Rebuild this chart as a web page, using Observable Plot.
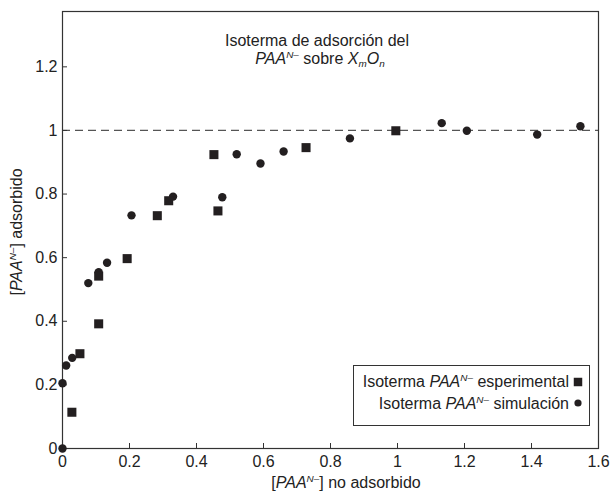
<!DOCTYPE html>
<html>
<head>
<meta charset="utf-8">
<script src="https://cdn.jsdelivr.net/npm/d3@7"></script>
<script src="https://cdn.jsdelivr.net/npm/@observablehq/plot@0.6"></script>
<style>
  html, body { margin: 0; padding: 0; background: #fff; }
  #chart { width: 611px; height: 494px; }
  svg { font-family: "Liberation Sans", Arial, sans-serif; }
</style>
</head>
<body>
<div id="chart"></div>
<script>
// Experimental isotherm (squares)
const xExp = [0.028, 0.052, 0.108, 0.108, 0.193, 0.283, 0.317, 0.452, 0.464, 0.727, 0.995];
const yExp = [0.114, 0.298, 0.392, 0.542, 0.597, 0.732, 0.779, 0.924, 0.747, 0.946, 0.999];
// Simulated isotherm (circles)
const xSim = [0, 0, 0.011, 0.029, 0.077, 0.108, 0.133, 0.206, 0.330, 0.477, 0.520, 0.591, 0.660, 0.858, 1.132, 1.207, 1.417, 1.546];
const ySim = [0, 0.205, 0.261, 0.285, 0.520, 0.554, 0.584, 0.733, 0.792, 0.790, 0.925, 0.896, 0.934, 0.975, 1.023, 0.999, 0.987, 1.013];
// Reference level
const plateau = [1];
// Ticks
const xTicks = [0, 0.2, 0.4, 0.6, 0.8, 1, 1.2, 1.4, 1.6];
const yTicks = [0, 0.2, 0.4, 0.6, 0.8, 1, 1.2];
const xTickLabels = ["0", "0.2", "0.4", "0.6", "0.8", "1", "1.2", "1.4", "1.6"];
const yTickLabels = ["0", "0.2", "0.4", "0.6", "0.8", "1", "1.2"];

const expData = xExp.map((x, i) => ({x, y: yExp[i]}));
const simData = xSim.map((x, i) => ({x, y: ySim[i]}));
const ink = "#231f20";

const W = 611, H = 494;
const M = {left: 62, right: 13, top: 11, bottom: 46};
const FS = 16;

const plot = Plot.plot({
  width: W,
  height: H,
  marginLeft: M.left,
  marginRight: M.right,
  marginTop: M.top,
  marginBottom: M.bottom,
  style: {fontFamily: '"Liberation Sans", Arial, sans-serif', fontSize: FS + "px", color: "#333", background: "#fff"},
  x: {domain: [0, 1.6]},
  y: {domain: [0, 1.374]},
  marks: [
    Plot.ruleY(plateau, {stroke: "#555", strokeWidth: 1.2, strokeDasharray: "8,5"}),
    Plot.axisX({ticks: xTicks, tickSize: -5, tickPadding: 12, tickFormat: (d, i) => xTickLabels[i], label: null, fontSize: FS, fill: "#222"}),
    Plot.axisY({ticks: yTicks, tickSize: -5, tickPadding: 10, tickFormat: (d, i) => yTickLabels[i], label: null, fontSize: FS, fill: "#222"}),
    Plot.frame({stroke: "#333", strokeWidth: 1.2}),
    Plot.dot(simData, {x: "x", y: "y", symbol: "circle", r: 4.2, fill: ink, stroke: "none"}),
    Plot.dot(expData, {x: "x", y: "y", symbol: "square", r: 5.1, fill: ink, stroke: "none"})
  ]
});
document.getElementById("chart").appendChild(plot);

// Rich text (italics, super/subscripts) added as real SVG text
const svg = d3.select(plot);
const font = '"Liberation Sans", Arial, sans-serif';
function rich(parent, x, y, parts, anchor, size, transform) {
  const t = parent.append("text")
    .attr("x", x).attr("y", y)
    .attr("text-anchor", anchor)
    .attr("font-family", font)
    .attr("font-size", size)
    .attr("fill", "#222");
  if (transform) t.attr("transform", transform);
  let shift = 0;
  for (const p of parts) {
    const s = t.append("tspan").text(p.t);
    if (p.i) s.attr("font-style", "italic");
    const target = p.sup ? -6 : p.sub ? 3 : 0;
    if (target !== shift) { s.attr("dy", target - shift); shift = target; }
    if (p.sup || p.sub) s.attr("font-size", size * 0.62);
  }
  return t;
}
const PAA = [{t: "PAA", i: true}, {t: "N–", i: true, sup: true}];

// Title
rich(svg, 317, 46, [{t: "Isoterma de adsorción del"}], "middle", FS);
rich(svg, 320, 64, [...PAA, {t: " sobre "}, {t: "X", i: true}, {t: "m", i: true, sub: true}, {t: "O", i: true}, {t: "n", i: true, sub: true}], "middle", FS);

// Axis labels
rich(svg, 346, 488, [{t: "["}, ...PAA, {t: "] no adsorbido"}], "middle", FS);
rich(svg, 0, 0, [{t: "["}, ...PAA, {t: "] adsorbido"}], "middle", FS, "translate(22,232) rotate(-90)");

// Legend
const lg = svg.append("g");
lg.append("rect").attr("x", 353.5).attr("y", 365.5).attr("width", 236).attr("height", 60)
  .attr("fill", "#fff").attr("stroke", "#333").attr("stroke-width", 1);
rich(lg, 569, 387, [{t: "Isoterma "}, ...PAA, {t: " esperimental"}], "end", FS);
rich(lg, 569, 409, [{t: "Isoterma "}, ...PAA, {t: " simulación"}], "end", FS);
lg.append("path").attr("d", d3.symbol(d3.symbolSquare, 72)()).attr("transform", "translate(578,382)").attr("fill", ink);
lg.append("circle").attr("cx", 578).attr("cy", 403).attr("r", 3.6).attr("fill", ink);
</script>
</body>
</html>
